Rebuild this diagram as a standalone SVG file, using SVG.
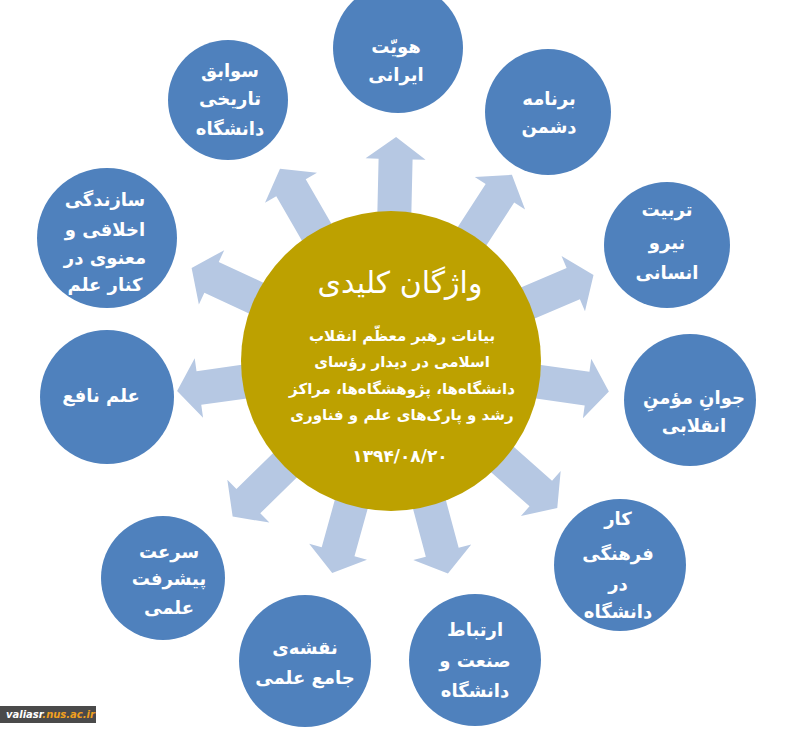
<svg xmlns="http://www.w3.org/2000/svg" width="800" height="732" viewBox="0 0 800 732">
<style>
.node{fill:#4f81bd}
.t{fill:#fff;font-family:"DejaVu Sans",sans-serif;font-weight:bold;font-size:18px;text-anchor:middle}
.c{fill:#fff;font-family:"DejaVu Sans",sans-serif;font-weight:bold;font-size:15px;text-anchor:middle}
.arr{fill:#b6c8e3}
</style>
<defs>
<path id="ar" d="M0 0 L-22 -30 L-22 -17 L-80 -17 L-80 17 L-22 17 L-22 30 Z"/>
</defs>
<rect width="800" height="732" fill="#fff"/>
<g id="connectors" class="arr">
<use href="#ar" transform="translate(391 361) rotate(-88.7) translate(224 0)"/>
<use href="#ar" transform="translate(391 361) rotate(-120) translate(222 0)"/>
<use href="#ar" transform="translate(391 361) rotate(-57) translate(222 0)"/>
<use href="#ar" transform="translate(391 361) rotate(-155) translate(220 0)"/>
<use href="#ar" transform="translate(391 361) rotate(-23) translate(220 0)"/>
<use href="#ar" transform="translate(391 361) rotate(172) translate(216 0)"/>
<use href="#ar" transform="translate(391 361) rotate(8) translate(220 0)"/>
<use href="#ar" transform="translate(391 361) rotate(135.5) translate(222 0)"/>
<use href="#ar" transform="translate(391 361) rotate(41.5) translate(222 0)"/>
<use href="#ar" transform="translate(391 361) rotate(105.5) translate(220 0)"/>
<use href="#ar" transform="translate(391 361) rotate(75) translate(220 0)"/>
</g>
<g id="center">
<circle cx="391" cy="361" r="150" fill="#bda100"/>
<text x="400" y="293" style="fill:#fff;font-family:'DejaVu Sans',sans-serif;font-size:30px;text-anchor:middle">واژگان کلیدی</text>
<text class="c" x="402" y="341">بیانات رهبر معظّم انقلاب</text>
<text class="c" x="402" y="367">اسلامی در دیدار  رؤسای</text>
<text class="c" x="402" y="394">دانشگاه‌ها، پژوهشگاه‌ها، مراکز</text>
<text class="c" x="402" y="420">رشد و پارک‌های علم و فناوری</text>
<text class="c" x="400" y="462" style="font-size:17px">۱۳۹۴/۰۸/۲۰</text>
</g>
<g id="n1"><circle class="node" cx="398" cy="48" r="65"/>
<text class="t" x="396" y="53">هویّت</text><text class="t" x="396" y="81">ایرانی</text></g>
<g id="n2"><circle class="node" cx="228" cy="100" r="60"/>
<text class="t" x="230" y="77">سوابق</text><text class="t" x="230" y="105">تاریخی</text><text class="t" x="230" y="135">دانشگاه</text></g>
<g id="n3"><circle class="node" cx="548" cy="112" r="63"/>
<text class="t" x="549" y="105">برنامه</text><text class="t" x="549" y="133">دشمن</text></g>
<g id="n4"><circle class="node" cx="107" cy="238" r="70"/>
<text class="t" x="105" y="206">سازندگی</text><text class="t" x="105" y="236">اخلاقی و</text><text class="t" x="105" y="264">معنوی در</text><text class="t" x="105" y="291">کنار علم</text></g>
<g id="n5"><circle class="node" cx="667" cy="245" r="63"/>
<text class="t" x="667" y="216">تربیت</text><text class="t" x="667" y="249">نیرو</text><text class="t" x="667" y="279">انسانی</text></g>
<g id="n6"><circle class="node" cx="107" cy="397" r="67"/>
<text class="t" x="101" y="402">علم نافع</text></g>
<g id="n7"><circle class="node" cx="690" cy="400" r="66"/>
<text class="t" x="694" y="404">جوانِ مؤمنِ</text><text class="t" x="694" y="432">انقلابی</text></g>
<g id="n8"><circle class="node" cx="163" cy="578" r="62"/>
<text class="t" x="169" y="558">سرعت</text><text class="t" x="169" y="585">پیشرفت</text><text class="t" x="169" y="614">علمی</text></g>
<g id="n9"><circle class="node" cx="620" cy="565" r="66"/>
<text class="t" x="618" y="525">کار</text><text class="t" x="618" y="560">فرهنگی</text><text class="t" x="618" y="590">در</text><text class="t" x="618" y="618">دانشگاه</text></g>
<g id="n10"><circle class="node" cx="305" cy="661" r="66"/>
<text class="t" x="305" y="654">نقشه‌ی</text><text class="t" x="305" y="684">جامع علمی</text></g>
<g id="n11"><circle class="node" cx="475" cy="660" r="66"/>
<text class="t" x="475" y="636">ارتباط</text><text class="t" x="475" y="667">صنعت و</text><text class="t" x="475" y="697">دانشگاه</text></g>
<g id="watermark">
<rect x="0" y="706" width="96" height="17" fill="#4a4a4a"/>
<text x="6" y="718" style="font-family:'DejaVu Sans',sans-serif;font-size:10px;font-weight:bold;font-style:italic"><tspan fill="#fff">valiasr</tspan><tspan fill="#f0a020">.nus.ac.ir</tspan></text>
</g>
</svg>
